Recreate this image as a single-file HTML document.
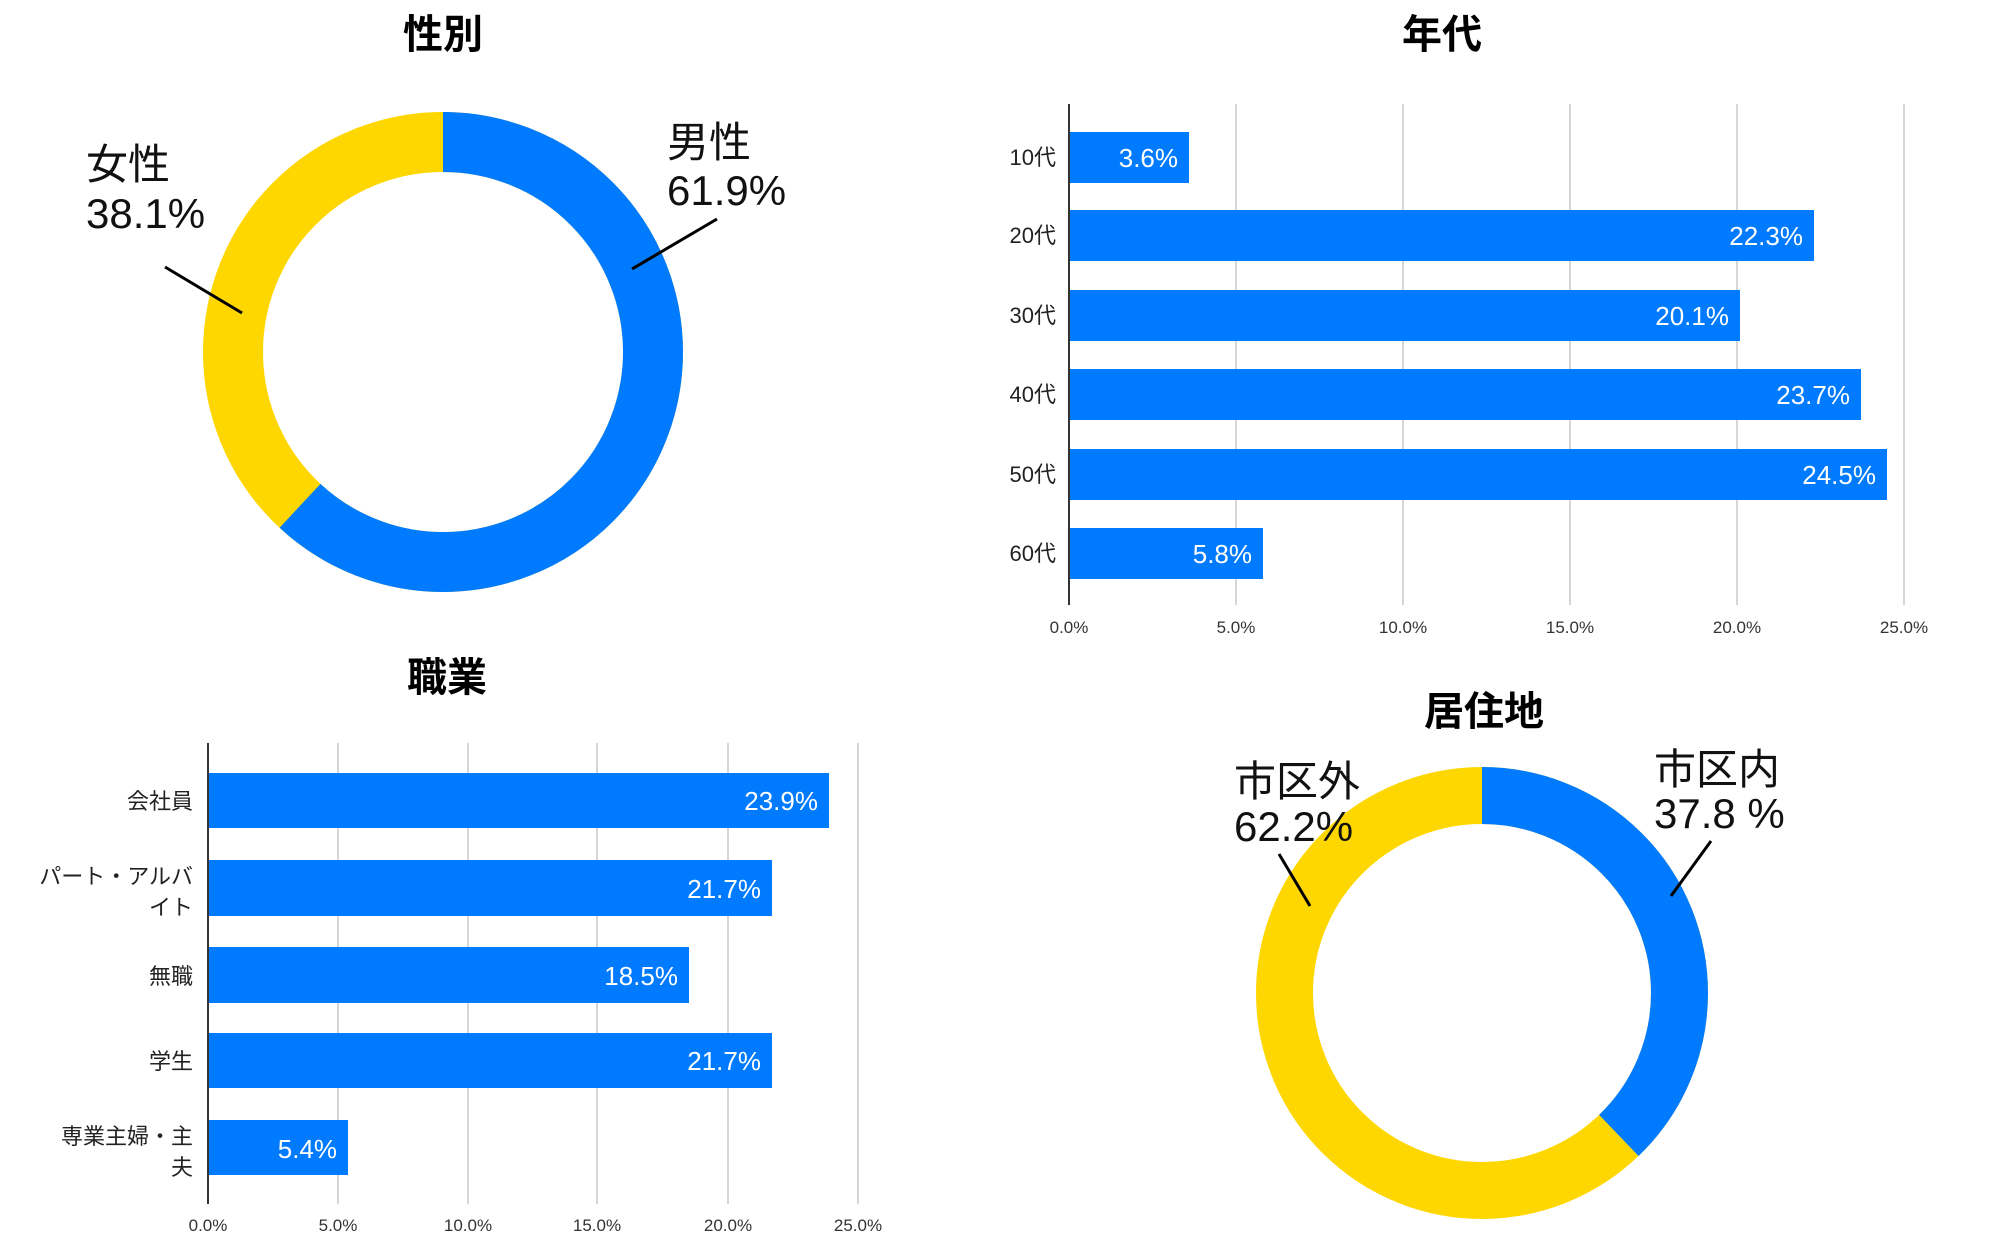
<!DOCTYPE html>
<html><head><meta charset="utf-8"><style>
html,body{margin:0;padding:0;background:#fff;}
svg{display:block;font-family:"Liberation Sans","Noto Sans CJK JP",sans-serif;}
</style></head><body>
<svg width="1999" height="1242" viewBox="0 0 1999 1242" xmlns="http://www.w3.org/2000/svg">
<rect width="1999" height="1242" fill="#fff"/>
<!-- 性別 -->
<text x="443" y="48" font-size="40" font-weight="bold" text-anchor="middle" fill="#000">性別</text>
<circle cx="443" cy="352" r="210" fill="none" stroke="#FFD700" stroke-width="60"/>
<circle cx="443" cy="352" r="210" fill="none" stroke="#007BFF" stroke-width="60" stroke-dasharray="816.8 2000" transform="rotate(-90 443 352)"/>
<text x="86" y="179" font-size="42" fill="#111">女性</text>
<text x="86" y="228" font-size="42" fill="#111">38.1%</text>
<line x1="165" y1="267" x2="242" y2="313" stroke="#000" stroke-width="3"/>
<text x="667" y="157" font-size="42" fill="#111">男性</text>
<text x="667" y="205" font-size="42" fill="#111">61.9%</text>
<line x1="717" y1="219" x2="632" y2="269" stroke="#000" stroke-width="3"/>

<!-- 年代 -->
<text x="1442" y="48" font-size="40" font-weight="bold" text-anchor="middle" fill="#000">年代</text>
<g stroke="#d6d6d6" stroke-width="2">
<line x1="1236" y1="104" x2="1236" y2="605"/><line x1="1403" y1="104" x2="1403" y2="605"/>
<line x1="1570" y1="104" x2="1570" y2="605"/><line x1="1737" y1="104" x2="1737" y2="605"/>
<line x1="1904" y1="104" x2="1904" y2="605"/>
</g>
<g fill="#007BFF">
<rect x="1069" y="132" width="120" height="51"/>
<rect x="1069" y="210" width="745" height="51"/>
<rect x="1069" y="290" width="671" height="51"/>
<rect x="1069" y="369" width="792" height="51"/>
<rect x="1069" y="449" width="818" height="51"/>
<rect x="1069" y="528" width="194" height="51"/>
</g>
<line x1="1069" y1="104" x2="1069" y2="605" stroke="#333" stroke-width="2"/>
<g font-size="26" fill="#fff" text-anchor="end">
<text x="1178" y="167">3.6%</text><text x="1803" y="245">22.3%</text>
<text x="1729" y="325">20.1%</text><text x="1850" y="404">23.7%</text>
<text x="1876" y="484">24.5%</text><text x="1252" y="563">5.8%</text>
</g>
<g font-size="22" fill="#222" text-anchor="end">
<text x="1056" y="165">10代</text><text x="1056" y="243">20代</text>
<text x="1056" y="323">30代</text><text x="1056" y="402">40代</text>
<text x="1056" y="482">50代</text><text x="1056" y="561">60代</text>
</g>
<g font-size="17" fill="#333" text-anchor="middle">
<text x="1069" y="633">0.0%</text><text x="1236" y="633">5.0%</text><text x="1403" y="633">10.0%</text>
<text x="1570" y="633">15.0%</text><text x="1737" y="633">20.0%</text><text x="1904" y="633">25.0%</text>
</g>

<!-- 職業 -->
<text x="447" y="691" font-size="40" font-weight="bold" text-anchor="middle" fill="#000">職業</text>
<g stroke="#d6d6d6" stroke-width="2">
<line x1="338" y1="743" x2="338" y2="1204"/><line x1="468" y1="743" x2="468" y2="1204"/>
<line x1="597" y1="743" x2="597" y2="1204"/><line x1="728" y1="743" x2="728" y2="1204"/>
<line x1="858" y1="743" x2="858" y2="1204"/>
</g>
<g fill="#007BFF">
<rect x="208" y="773" width="621" height="55"/>
<rect x="208" y="860" width="564" height="56"/>
<rect x="208" y="947" width="481" height="56"/>
<rect x="208" y="1033" width="564" height="55"/>
<rect x="208" y="1120" width="140" height="55"/>
</g>
<line x1="208" y1="743" x2="208" y2="1204" stroke="#333" stroke-width="2"/>
<g font-size="26" fill="#fff" text-anchor="end">
<text x="818" y="810">23.9%</text><text x="761" y="898">21.7%</text>
<text x="678" y="985">18.5%</text><text x="761" y="1070">21.7%</text>
<text x="337" y="1158">5.4%</text>
</g>
<g font-size="22" fill="#222" text-anchor="end">
<text x="193" y="809">会社員</text>
<text x="193" y="884">パート・アルバ</text><text x="193" y="915">イト</text>
<text x="193" y="984">無職</text>
<text x="193" y="1069">学生</text>
<text x="193" y="1144">専業主婦・主</text><text x="193" y="1175">夫</text>
</g>
<g font-size="17" fill="#333" text-anchor="middle">
<text x="208" y="1231">0.0%</text><text x="338" y="1231">5.0%</text><text x="468" y="1231">10.0%</text>
<text x="597" y="1231">15.0%</text><text x="728" y="1231">20.0%</text><text x="858" y="1231">25.0%</text>
</g>

<!-- 居住地 -->
<text x="1484" y="725" font-size="40" font-weight="bold" text-anchor="middle" fill="#000">居住地</text>
<circle cx="1482" cy="993" r="197.5" fill="none" stroke="#FFD700" stroke-width="57"/>
<circle cx="1482" cy="993" r="197.5" fill="none" stroke="#007BFF" stroke-width="57" stroke-dasharray="469.1 2000" transform="rotate(-90 1482 993)"/>
<text x="1234" y="796" font-size="42" fill="#111">市区外</text>
<text x="1234" y="841" font-size="42" fill="#111">62.2%</text>
<line x1="1279" y1="854" x2="1310" y2="906" stroke="#000" stroke-width="3"/>
<text x="1654" y="784" font-size="42" fill="#111">市区内</text>
<text x="1654" y="828" font-size="42" fill="#111">37.8 %</text>
<line x1="1711" y1="841" x2="1671" y2="896" stroke="#000" stroke-width="3"/>
</svg>
</body></html>
